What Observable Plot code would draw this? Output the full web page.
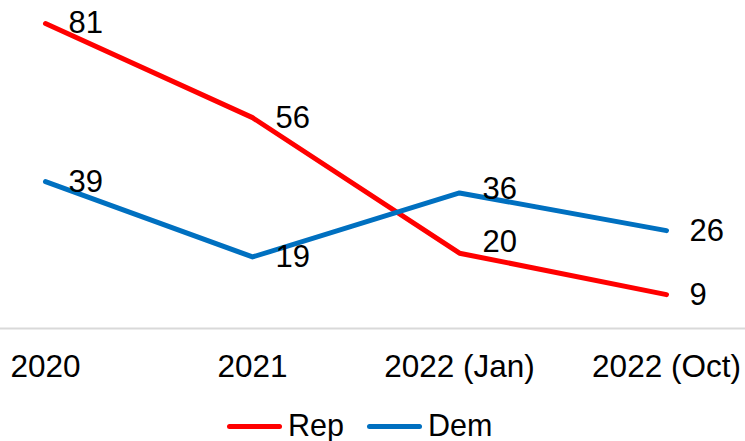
<!DOCTYPE html>
<html>
<head>
<meta charset="utf-8">
<script src="https://cdn.jsdelivr.net/npm/d3@7"></script>
<script src="https://cdn.jsdelivr.net/npm/@observablehq/plot@0.6"></script>
<style>
  html, body { margin: 0; padding: 0; background: #fff; }
  body { width: 745px; height: 441px; overflow: hidden; font-family: "Liberation Sans", Arial, sans-serif; }
  #legend { position: relative; height: 41px; font-size: 30.5px; color: #000; }
  .item { position: absolute; top: 0; display: flex; align-items: center; height: 41px; }
  .swatch { width: 55px; height: 5px; border-radius: 3px; margin-right: 6px; margin-top: 12px; }
  .lbl { line-height: 41px; margin-top: 10px; }
</style>
</head>
<body>
<div id="chart"></div>
<div id="legend"></div>
<script>
const periods = ["2020", "2021", "2022 (Jan)", "2022 (Oct)"];
const series = ["Rep", "Dem"];
const repValues = [81, 56, 20, 9];
const demValues = [39, 19, 36, 26];
const colors = ["#FF0000", "#0070C0"];

const data = [];
periods.forEach((p, i) => {
  data.push({period: p, party: "Rep", value: repValues[i]});
  data.push({period: p, party: "Dem", value: demValues[i]});
});

const font = "Liberation Sans, Arial, sans-serif";
const raised = d => d.party === "Rep" && d.period === "2022 (Jan)";
const lifted = d => d.party === "Dem" && d.period === "2022 (Jan)";

const chart = Plot.plot({
  width: 745,
  height: 400,
  marginLeft: 44,
  marginRight: 78,
  marginTop: 23,
  marginBottom: 72,
  style: {fontFamily: font, fontSize: "31.5px", color: "#000", background: "#fff"},
  x: {type: "point", domain: periods, padding: 0},
  y: {domain: [0, 81], axis: null},
  color: {domain: series, range: colors},
  marks: [
    Plot.ruleY([0], {stroke: "#d9d9d9", strokeWidth: 2, insetLeft: -44, insetRight: -78}),
    Plot.axisX({tickSize: 0, tickPadding: 26, fontSize: 31.5, label: null, fill: "#000"}),
    Plot.line(data, {x: "period", y: "value", z: "party", stroke: "party", strokeWidth: 5, strokeLinecap: "round", strokeLinejoin: "round"}),
    Plot.text(data.filter(d => !raised(d) && !lifted(d)), {x: "period", y: "value", text: d => String(d.value), textAnchor: "start", dx: 23, fontSize: 31, fill: "#000"}),
    Plot.text(data.filter(raised), {x: "period", y: "value", text: d => String(d.value), textAnchor: "start", dx: 23, dy: -11, fontSize: 31, fill: "#000"}),
    Plot.text(data.filter(lifted), {x: "period", y: "value", text: d => String(d.value), textAnchor: "start", dx: 23, dy: -4, fontSize: 31, fill: "#000"})
  ]
});
document.getElementById("chart").appendChild(chart);

const legend = document.getElementById("legend");
const lefts = [227, 367];
series.forEach((s, i) => {
  const item = document.createElement("div");
  item.className = "item";
  item.style.left = lefts[i] + "px";
  const sw = document.createElement("div");
  sw.className = "swatch";
  sw.style.background = colors[i];
  const t = document.createElement("span");
  t.className = "lbl";
  t.textContent = s;
  item.appendChild(sw);
  item.appendChild(t);
  legend.appendChild(item);
});
</script>
</body>
</html>
